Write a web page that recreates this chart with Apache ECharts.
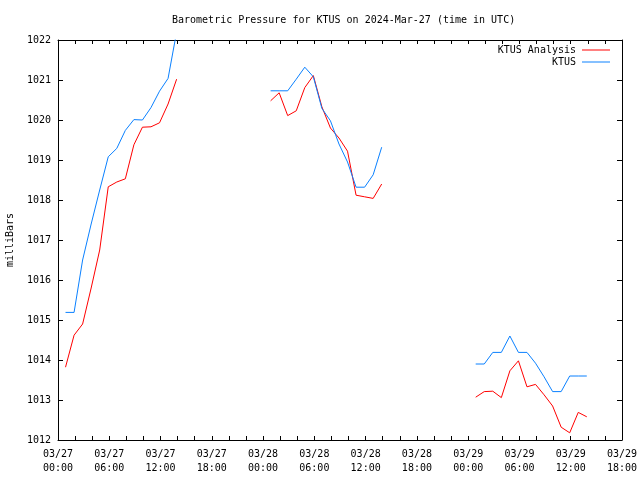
<!DOCTYPE html>
<html>
<head>
<meta charset="utf-8">
<script src="https://cdn.jsdelivr.net/npm/echarts@6/dist/echarts.min.js"></script>
<style>
html,body{margin:0;padding:0;background:#fff;}
#chart{width:640px;height:480px;}
</style>
</head>
<body>
<div id="chart"></div>
<script>
// Observation times: hours after 2024-03-27 00:00 UTC (null = gap in data)
var obsHours = [
  0.88, 1.88, 2.88, 3.88, 4.88, 5.88, 6.88, 7.88, 8.88, 9.88, 10.88, 11.88, 12.88, 13.88,
  null,
  24.88, 25.88, 26.88, 27.88, 28.88, 29.88, 30.88, 31.88, 32.88, 33.88, 34.88, 35.88, 36.88, 37.88,
  null,
  48.88, 49.88, 50.88, 51.88, 52.88, 53.88, 54.88, 55.88, 56.88, 57.88, 58.88, 59.88, 60.88, 61.88
];
var analysisValues = [
  1013.82, 1014.62, 1014.90, 1015.80, 1016.75, 1018.33, 1018.45, 1018.53, 1019.38, 1019.82, 1019.83, 1019.93, 1020.40, 1021.02,
  null,
  1020.48, 1020.68, 1020.11, 1020.23, 1020.81, 1021.11, 1020.33, 1019.80, 1019.55, 1019.22, 1018.12, 1018.08, 1018.04, 1018.40,
  null,
  1013.07, 1013.21, 1013.22, 1013.06, 1013.73, 1013.98, 1013.33, 1013.39, 1013.13, 1012.85, 1012.32, 1012.18, 1012.69, 1012.58
];
var ktusValues = [
  1015.19, 1015.19, 1016.50, 1017.40, 1018.25, 1019.08, 1019.29, 1019.74, 1020.01, 1020.00, 1020.31, 1020.72, 1021.04, 1022.20,
  null,
  1020.73, 1020.73, 1020.73, 1021.02, 1021.32, 1021.08, 1020.29, 1019.98, 1019.40, 1018.95, 1018.32, 1018.32, 1018.63, 1019.32,
  null,
  1013.90, 1013.90, 1014.19, 1014.19, 1014.60, 1014.19, 1014.19, 1013.92, 1013.58, 1013.21, 1013.21, 1013.60, 1013.60, 1013.60
];
var seriesNames = ['KTUS Analysis', 'KTUS'];
var seriesColors = ['#ff0000', '#0a80ff'];
var xLabelDays = ['03/27', '03/28', '03/29', '03/30'];
var titleText = 'Barometric Pressure for KTUS on 2024-Mar-27 (time in UTC)';
var yAxisName = 'milliBars';

function pairs(vals) {
  return obsHours.map(function (h, i) {
    return (h === null || vals[i] === null) ? [null, null] : [h, vals[i]];
  });
}
function xLabel(v) {
  if (v % 6 !== 0) return '';
  var d = Math.floor(v / 24);
  var hr = v % 24;
  return xLabelDays[d] + '\n' + (hr < 10 ? '0' : '') + hr + ':00';
}

var FONT = 'DejaVu Sans Mono';
var chart = echarts.init(document.getElementById('chart'), null, {renderer: 'canvas'});
var xBase = {
  type: 'value', min: 0, max: 66, interval: 2,
  axisLine: {show: true, onZero: false, lineStyle: {color: '#000', width: 1}},
  axisTick: {show: true, inside: true, length: 4, lineStyle: {color: '#000'}},
  splitLine: {show: false}
};
var yBase = {
  type: 'value', min: 1012, max: 1022, interval: 1,
  axisLine: {show: true, onZero: false, lineStyle: {color: '#000', width: 1}},
  axisTick: {show: true, inside: true, length: 5, lineStyle: {color: '#000'}},
  splitLine: {show: false}
};
chart.setOption({
  animation: false,
  backgroundColor: '#fff',
  title: {
    text: titleText, left: 167, top: 10,
    textStyle: {fontFamily: FONT, fontSize: 10, fontWeight: 'normal', color: '#000'}
  },
  legend: [
    {data: [seriesNames[0]], right: 30, top: 45, orient: 'vertical', align: 'right',
     icon: 'rect', itemWidth: 28, itemHeight: 1, itemGap: 2, padding: 0,
     textStyle: {fontFamily: FONT, fontSize: 10, color: '#000', padding: [0, 1, 0, 0]}},
    {data: [seriesNames[1]], right: 30, top: 57, orient: 'vertical', align: 'right',
     icon: 'rect', itemWidth: 28, itemHeight: 1, itemGap: 2, padding: 0,
     textStyle: {fontFamily: FONT, fontSize: 10, color: '#000', padding: [0, 1, 0, 0]}}
  ],
  grid: {left: 58, right: 18, top: 40, bottom: 40, containLabel: false, outerBoundsMode: 'none'},
  xAxis: [
    Object.assign({}, xBase, {position: 'bottom',
      axisLabel: {show: true, formatter: xLabel, margin: 7, fontFamily: FONT, fontSize: 10, color: '#000', lineHeight: 14, showMinLabel: true, showMaxLabel: true}}),
    Object.assign({}, xBase, {position: 'top', axisLabel: {show: false}})
  ],
  yAxis: [
    Object.assign({}, yBase, {position: 'left', name: yAxisName, nameLocation: 'middle', nameGap: 43, nameRotate: 90,
      nameTextStyle: {fontFamily: FONT, fontSize: 10, color: '#000'},
      axisLabel: {show: true, margin: 7, fontFamily: FONT, fontSize: 10, color: '#000',
        formatter: function (v) { return String(v); }}}),
    Object.assign({}, yBase, {position: 'right', axisLabel: {show: false}})
  ],
  series: [
    {name: seriesNames[0], type: 'line', data: pairs(analysisValues), showSymbol: false, symbol: 'none',
     connectNulls: false, clip: true, color: seriesColors[0], lineStyle: {width: 1, color: seriesColors[0]}},
    {name: seriesNames[1], type: 'line', data: pairs(ktusValues), showSymbol: false, symbol: 'none',
     connectNulls: false, clip: true, color: seriesColors[1], lineStyle: {width: 1, color: seriesColors[1]}}
  ]
});
</script>
</body>
</html>
